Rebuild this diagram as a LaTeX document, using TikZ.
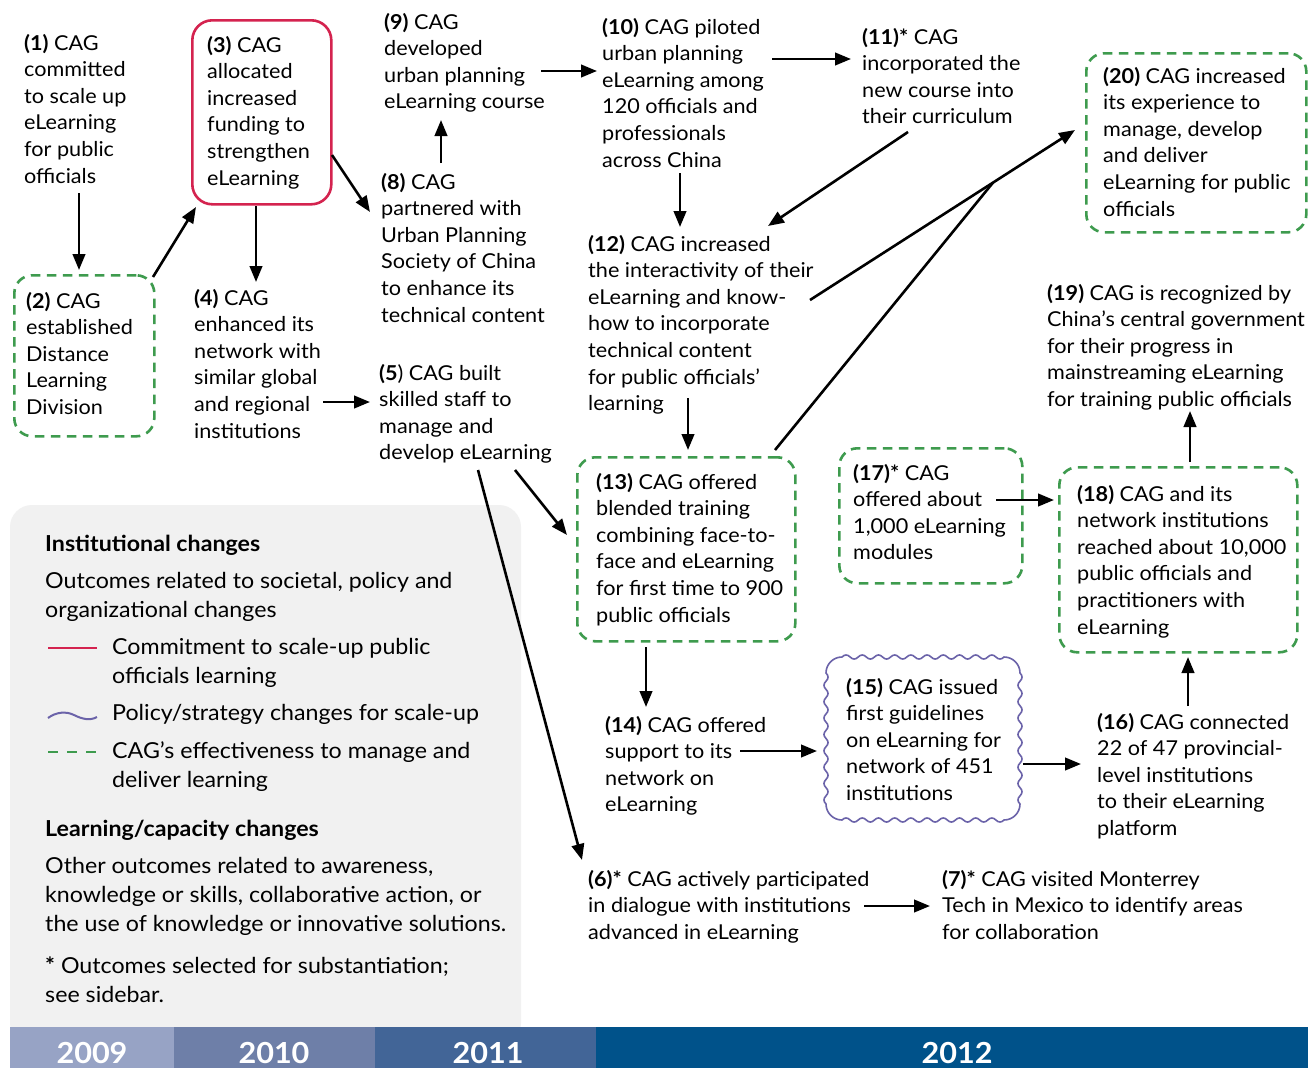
\documentclass[tikz,border=0pt]{standalone}
\usepackage{fontspec}
\setmainfont{Lato}[FakeStretch=1.055]
\usetikzlibrary{arrows.meta,calc}
\definecolor{cagred}{HTML}{D4234F}
\definecolor{cagpurple}{HTML}{6B63A9}
\definecolor{caggreen}{HTML}{3E9B4E}
\definecolor{leggray}{HTML}{F1F1F1}
\definecolor{yrA}{HTML}{97A3C5}
\definecolor{yrB}{HTML}{6E7FA8}
\definecolor{yrC}{HTML}{426597}
\definecolor{yrD}{HTML}{00528A}
\tikzset{
  txt/.style={anchor=base west, inner sep=0pt, align=left, font=\fontsize{20.5}{26.6}\selectfont},
  legtxt/.style={anchor=base west, inner sep=0pt, align=left, font=\fontsize{22}{29.3}\selectfont},
  boxbase/.style={anchor=north west, inner sep=0pt, line width=2.6pt},
  gbox/.style={boxbase, draw=caggreen, dash pattern=on 9.5pt off 6.5pt, rounded corners=18pt},
  rbox/.style={boxbase, draw=cagred, rounded corners=20pt},
  wavy/.style={cagpurple, line width=1.6pt},
  arr/.style={line width=2.6pt, -{Triangle[length=16pt,width=12.5pt]}},
  yeartxt/.style={anchor=base, inner sep=0pt, text=white, font=\fontsize{29}{29}\selectfont\bfseries}
}
\begin{document}
\begin{tikzpicture}[x=1pt,y=-1pt]
\fill[white] (0,0) rectangle (1308,1068);
\useasboundingbox (0,0) rectangle (1308,1068);
% legend background
\fill[leggray, rounded corners=22pt] (10,505) rectangle (521,1045);
% timeline
\fill[yrA] (10,1027) rectangle (174,1068);
\fill[yrB] (174,1027) rectangle (375,1068);
\fill[yrC] (375,1027) rectangle (596,1068);
\fill[yrD] (596,1027) rectangle (1308,1068);
\node[yeartxt] (y09) at (92,1063) {2009};
\node[yeartxt] (y10) at (274,1063) {2010};
\node[yeartxt] (y11) at (488,1063) {2011};
\node[yeartxt] (y12) at (957,1063) {2012};

% boxes
\node[gbox, minimum width=140pt, minimum height=161pt] (b2) at (13,274) {};
\node[rbox, minimum width=139pt, minimum height=184pt] (b3) at (191,19) {};
\node[gbox, minimum width=218pt, minimum height=184pt] (b13) at (576,456) {};
\node[boxbase, minimum width=194pt, minimum height=163pt] (b15) at (826,657) {};
\draw[wavy] (842,657)
  \foreach \i [evaluate=\i as \x using 842+16.2*\i] in {0,...,9} {
    .. controls ({\x+2.7},654.3) and ({\x+5.4},654.3) .. ({\x+8.1},657)
    .. controls ({\x+10.8},659.7) and ({\x+13.5},659.7) .. ({\x+16.2},657) }
  arc[start angle=-90, end angle=0, radius=16]
  \foreach \i [evaluate=\i as \y using 673+16.375*\i] in {0,...,7} {
    .. controls (1022.7,{\y+2.73}) and (1022.7,{\y+5.46}) .. (1020,{\y+8.19})
    .. controls (1017.3,{\y+10.92}) and (1017.3,{\y+13.65}) .. (1020,{\y+16.375}) }
  arc[start angle=0, end angle=90, radius=16]
  \foreach \i [evaluate=\i as \x using 1004-16.2*\i] in {0,...,9} {
    .. controls ({\x-2.7},822.7) and ({\x-5.4},822.7) .. ({\x-8.1},820)
    .. controls ({\x-10.8},817.3) and ({\x-13.5},817.3) .. ({\x-16.2},820) }
  arc[start angle=90, end angle=180, radius=16]
  \foreach \i [evaluate=\i as \y using 804-16.375*\i] in {0,...,7} {
    .. controls (823.3,{\y-2.73}) and (823.3,{\y-5.46}) .. (826,{\y-8.19})
    .. controls (828.7,{\y-10.92}) and (828.7,{\y-13.65}) .. (826,{\y-16.375}) }
  arc[start angle=180, end angle=270, radius=16] -- cycle;
\node[gbox, minimum width=183pt, minimum height=135pt] (b17) at (838,447) {};
\node[gbox, minimum width=238pt, minimum height=185pt] (b18) at (1058,466) {};
\node[gbox, minimum width=220pt, minimum height=179pt] (b20) at (1085,52) {};

% texts (anchored at the baseline of their last line)
\node[txt] (t1) at (24,183) {\textbf{(1)} CAG\\committed\\to scale up\\eLearning\\for public\\officials};
\node[txt] (t2) at (26,414.4) {\textbf{(2)} CAG\\established\\Distance\\Learning\\Division};
\node[txt] (t3) at (207,185) {\textbf{(3)} CAG\\allocated\\increased\\funding to\\strengthen\\eLearning};
\node[txt] (t4) at (194,438) {\textbf{(4)} CAG\\enhanced its\\network with\\similar global\\and regional\\institutions};
\node[txt] (t5) at (379,459.8) {\textbf{(5})  CAG built\\skilled staff to\\manage and\\develop eLearning};
\node[txt] (t6) at (588,939.2) {\textbf{(6)*} CAG actively participated\\in dialogue with institutions\\advanced in eLearning};
\node[txt] (t7) at (942,939.2) {\textbf{(7)*} CAG visited Monterrey\\Tech in Mexico to identify areas\\for collaboration};
\node[txt] (t8) at (381,322) {\textbf{(8)} CAG\\partnered with\\Urban Planning\\Society of China\\to enhance its\\technical content};
\node[txt] (t9) at (384,108.8) {\textbf{(9)} CAG\\developed\\urban planning\\eLearning course};
\node[txt] (t10) at (602,167) {\textbf{(10)} CAG piloted\\urban planning\\eLearning among\\120 officials and\\professionals\\across China};
\node[txt] (t11) at (862,123.8) {\textbf{(11)*} CAG\\incorporated the\\new course into\\their curriculum};
\node[txt] (t12) at (588,410.6) {\textbf{(12)} CAG increased\\the interactivity of their\\eLearning and know-\\how to incorporate\\technical content\\for public officials’\\learning};
\node[txt] (t13) at (596,622) {\textbf{(13)} CAG offered\\blended training\\combining face-to-\\face and eLearning\\for first time to 900\\public officials};
\node[txt] (t14) at (605,811.8) {\textbf{(14)} CAG offered\\support to its\\network on\\eLearning};
\node[txt] (t15) at (846,800.4) {\textbf{(15)} CAG issued\\first guidelines\\on eLearning for\\network of 451\\institutions};
\node[txt] (t16) at (1097,835.4) {\textbf{(16)} CAG connected\\22 of 47 provincial-\\level institutions\\to their eLearning\\platform};
\node[txt] (t17) at (853,559.8) {\textbf{(17)*} CAG\\offered about\\1,000 eLearning\\modules};
\node[txt] (t18) at (1077,634) {\textbf{(18)} CAG and its\\network institutions\\reached about 10,000\\public officials and\\practitioners with\\eLearning};
\node[txt] (t19) at (1047,406.4) {\textbf{(19)} CAG is recognized by\\China’s central government\\for their progress in\\mainstreaming eLearning\\for training public officials};
\node[txt] (t20) at (1103,216) {\textbf{(20)} CAG increased\\its experience to\\manage, develop\\and deliver\\eLearning for public\\officials};

% legend
\node[legtxt, font=\fontsize{22}{29.3}\selectfont\bfseries] (lh1) at (45,551) {Institutional changes};
\node[legtxt] (ld1) at (45,617.3) {Outcomes related to societal, policy and\\organizational changes};
\node[legtxt] (li1) at (112,683.3) {Commitment to scale-up public\\officials learning};
\node[legtxt] (li2) at (112,720) {Policy/strategy changes for scale-up};
\node[legtxt] (li3) at (112,787.3) {CAG’s effectiveness to manage and\\deliver learning};
\node[legtxt, font=\fontsize{22}{29.3}\selectfont\bfseries] (lh2) at (45,836) {Learning/capacity changes};
\node[legtxt] (ld2) at (45,931.6) {Other outcomes related to awareness,\\knowledge or skills, collaborative action, or\\the use of knowledge or innovative solutions.};
\node[legtxt] (ld3) at (45,1002.3) {\textbf{*} Outcomes selected for substantiation;\\see sidebar.};
\draw[cagred, line width=2.2pt] ($(li1.base west)+(-64,-35.3)$) -- ($(li1.base west)+(-15,-35.3)$);
\draw[cagpurple, line width=2pt] ($(li2.base west)+(-64,-2)$) .. controls ($(li2.base west)+(-56,-8)$) and ($(li2.base west)+(-46,-9)$) .. ($(li2.base west)+(-38,-5)$) .. controls ($(li2.base west)+(-30,-1)$) and ($(li2.base west)+(-22,1)$) .. ($(li2.base west)+(-15,-3)$);
\draw[caggreen, line width=2.6pt, dash pattern=on 10pt off 9pt] ($(li3.base west)+(-64,-35.3)$) -- ($(li3.base west)+(-15,-35.3)$);

% arrows
\draw[arr] ($(t1.base west)+(55,10)$) -- ($(b2.north west)+(66,-4)$);
\draw[arr] ($(b2.north west)+(140,3)$) -- ($(b3.north west)+(5,188)$);
\draw[arr] ($(b3.north west)+(65,187)$) -- ($(t4.base west)+(62,-156)$);
\draw[arr] ($(b3.north west)+(141,136)$) -- ($(t8.base west)+(-11,-110)$);
\draw[arr] ($(t8.base west)+(60,-159)$) -- ($(t9.base west)+(57,11.2)$);
\draw[arr] ($(t9.base west)+(157,-37.8)$) -- ($(t10.base west)+(-5,-96)$);
\draw[arr] ($(t10.base west)+(170,-108)$) -- ($(t11.base west)+(-11,-64.8)$);
\draw[arr] ($(t10.base west)+(78,6)$) -- ($(t12.base west)+(92,-183.6)$);
\draw[arr] ($(t11.base west)+(46,8.2)$) -- ($(t12.base west)+(180,-184.6)$);
\draw[arr] ($(t12.base west)+(222,-110.6)$) -- ($(b20.north west)+(-10,78)$);
\coordinate (join) at ($(b20.north west)+(-92,130.6)$);
\draw[line width=2.6pt] ($(b13.north west)+(199,-6)$) -- (join);
\draw[arr] ($(t12.base west)+(100,-12.6)$) -- ($(b13.north west)+(112,-6)$);
\draw[arr] ($(t4.base west)+(129,-36)$) -- ($(t5.base west)+(-9,-57.8)$);
\draw[arr] ($(t5.base west)+(136,10.2)$) -- ($(b13.north west)+(-9,79)$);
\draw[arr] ($(t5.base west)+(99,10.2)$) -- ($(t6.base west)+(-6,-79.2)$);
\draw[arr] ($(b13.north west)+(70,191)$) -- ($(t14.base west)+(41,-104.8)$);
\draw[arr] ($(t14.base west)+(135,-60.8)$) -- ($(b15.north west)+(-9,94)$);
\draw[arr] ($(b15.north west)+(197,107)$) -- ($(t16.base west)+(-16,-71.4)$);
\draw[arr] ($(t16.base west)+(91,-129.4)$) -- ($(b18.north west)+(130,191)$);
\draw[arr] ($(t17.base west)+(143,-59.8)$) -- ($(b18.north west)+(-4,34)$);
\draw[arr] ($(b18.north west)+(132,-4)$) -- ($(t19.base west)+(143,4.6)$);
\draw[arr] ($(t6.base west)+(276,-33.2)$) -- ($(t7.base west)+(-12,-33.2)$);
\end{tikzpicture}
\end{document}
